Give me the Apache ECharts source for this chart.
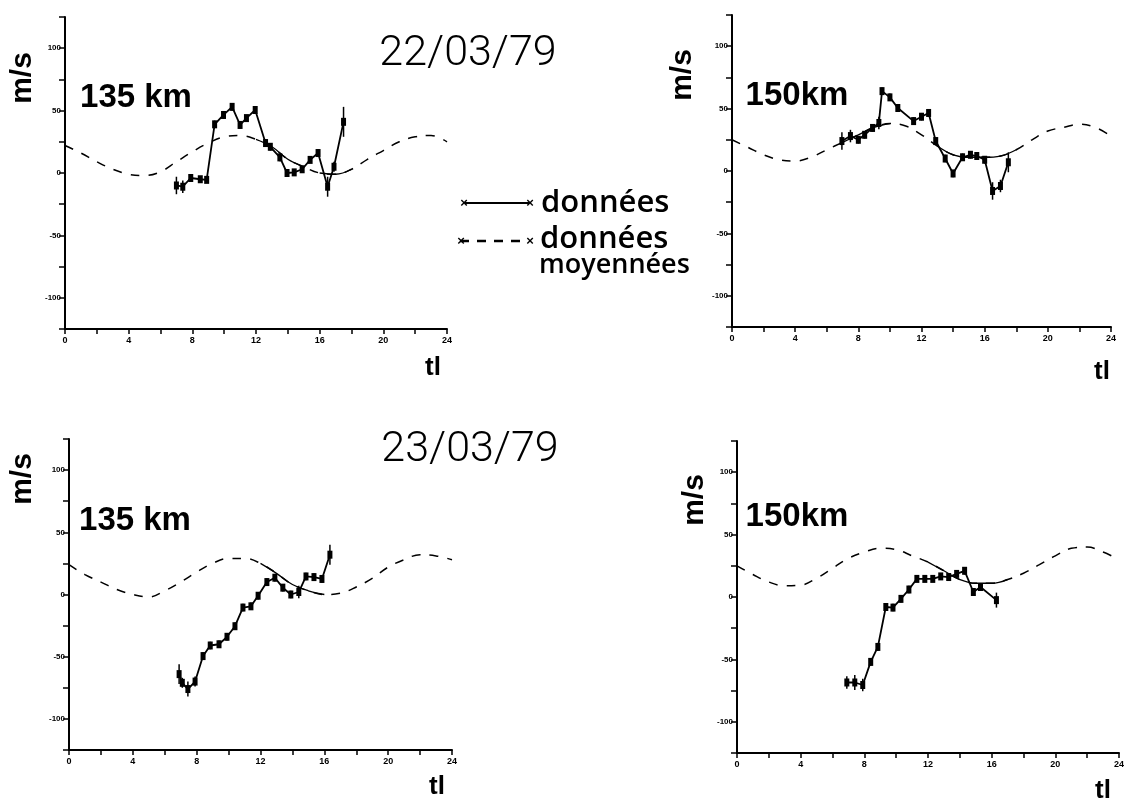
<!DOCTYPE html>
<html><head><meta charset="utf-8">
<script src="https://cdn.jsdelivr.net/npm/echarts@6/dist/echarts.min.js"></script>
<style>html,body{margin:0;padding:0;background:#fff}#c{width:1127px;height:803px}</style>
</head><body><div id="c"></div>
<script>
// ---- data ----
const hours = [0,1,2,3,4,5,6,7,8,9,10,11,12,13,14,15,16,17,18,19,20,21,22,23,24];
const xTickLabels = ['0','4','8','12','16','20','24'];
const yTickLabels = ['-100','-50','0','50','100'];

// données moyennées (dashed)
const mean1 = [22,16,9,3,-1,-2,1,9,17,24,29,30,27,21,11,5,0,-1,3,11,18,25,29,30,25];
const mean2 = [25,19,13,9,8,11,17,23,29,35,38,36,29,20,13,11,11,12,17,25,32,35,37.5,35,28];
const mean3 = [24,16,10,4,0,-2,3,10,18,25,29,29,25,17,8,3,0,1,6,13,22,28,32,31,28];
const mean4 = [25,18,12,9,9.5,15,23,31,36,39,38,33,28,21,14,11,11,14,19,26,33,39,40,36,30];
// hour spans where the mean curve is drawn solid
const solid1 = [[12,15],[16,18]];
const solid2 = [[7,10],[13,18]];
const solid3 = [[12,16]];
const solid4 = [[12,17]];

// données (solid) : time, value, error half-width
const t1 = [7.0,7.4,7.9,8.5,8.9,9.4,9.96,10.5,11.0,11.4,11.95,12.6,12.9,13.5,13.95,14.4,14.9,15.4,15.9,16.5,16.9,17.5];
const v1 = [-10,-11,-4,-5,-5.5,39,46.5,53,38.5,44,50.5,24,21,12.5,0,0.5,3,10.5,16,-11,5,41];
const e1 = [7,5,2,2,2,3,3,3,3,2,3,3,3,3,2,2,2,2,3,8,4,12];

const t2 = [6.96,7.5,8.0,8.4,8.9,9.3,9.5,10.0,10.5,11.5,12.0,12.45,12.9,13.5,14.0,14.6,15.1,15.5,16.0,16.5,17.0,17.5];
const v2 = [24,28,25,29,34.5,38.5,64,59,50.5,40,43.5,46.5,24,10,-2,11,13,12,9,-16,-12,7];
const e2 = [7,5,3,3,3,5,3,3,3,3,3,3,3,3,3,3,3,3,3,7,5,8];

const t3 = [6.9,7.1,7.45,7.9,8.4,8.85,9.4,9.9,10.4,10.9,11.4,11.85,12.4,12.9,13.4,13.9,14.4,14.85,15.35,15.85,16.35];
const v3 = [-64,-71,-76,-70,-49.5,-41,-40,-34,-25.5,-10.5,-9.5,-1,10,13.5,5.5,0,2,14.5,14,12.5,32];
const e3 = [8,4,6,4,3,3,3,3,3,3,3,3,3,3,3,3,5,3,3,3,8];

const t4 = [6.9,7.4,7.9,8.4,8.85,9.35,9.8,10.3,10.8,11.3,11.8,12.3,12.8,13.3,13.8,14.3,14.85,15.3,16.3];
const v4 = [-68.5,-68.5,-70.5,-52,-40,-8,-8.5,-1.5,6,14.5,14.5,14.5,16.5,16,18.5,21,4,8,-2.5];
const e4 = [5,6,5,3,3,3,3,3,3,2,2,2,2,2,3,3,3,3,6];

const panelLabels = ['135 km','150km','135 km','150km'];
const dateLabels = ['22/03/79','23/03/79'];
const legendLabels = ['données','données','moyennées'];
const yName = 'm/s', xName = 'tl';

// ---- layout ----
const grids = [
  {left:65, top:17, width:382, height:312},
  {left:732, top:15, width:379, height:312},
  {left:69, top:439, width:383, height:311},
  {left:737, top:441, width:384, height:312}
];
const means = [mean1,mean2,mean3,mean4];
const solids = [solid1,solid2,solid3,solid4];
const ts = [t1,t2,t3,t4], vs=[v1,v2,v3,v4], es=[e1,e2,e3,e4];

const xAxes = [], yAxes = [], series = [];
grids.forEach((g,i)=>{
  xAxes.push({
    type:'value', gridIndex:i, min:0, max:24, interval:2,
    axisLine:{show:true, onZero:false, lineStyle:{color:'#000', width:2}},
    axisTick:{show:true, inside:false, length:5, lineStyle:{color:'#000', width:1.5}},
    splitLine:{show:false},
    axisLabel:{color:'#000', fontSize:9, fontWeight:'bold', fontFamily:'Liberation Sans', margin:7,
      formatter:v=> xTickLabels.includes(String(v)) ? String(v) : ''}
  });
  yAxes.push({
    type:'value', gridIndex:i, min:-125, max:125, interval:25,
    axisLine:{show:true, onZero:false, lineStyle:{color:'#000', width:2}},
    axisTick:{show:true, length:6, lineStyle:{color:'#000', width:1.5}},
    splitLine:{show:false},
    axisLabel:{color:'#000', fontSize:8, fontWeight:'bold', fontFamily:'Liberation Sans', margin:4,
      formatter:v=> yTickLabels.includes(String(v)) ? String(v) : ''}
  });
  series.push({
    type:'line', xAxisIndex:i, yAxisIndex:i, smooth:0.4, symbol:'none', silent:true,
    data: hours.map((h,k)=>[h, means[i][k]]),
    lineStyle:{color:'#000', width:1.5, type:[9,9]}, z:2
  });
  solids[i].forEach(span=>{
    series.push({
      type:'line', xAxisIndex:i, yAxisIndex:i, smooth:0.4, symbol:'none', silent:true,
      data: hours.map((h,k)=>[h, means[i][k]]).filter(d=>d[0]>=span[0] && d[0]<=span[1]),
      lineStyle:{color:'#000', width:1.3}, z:2
    });
  });
  series.push({
    type:'custom', xAxisIndex:i, yAxisIndex:i, silent:true,
    data: ts[i].map((t,k)=>[t, vs[i][k]-es[i][k], vs[i][k]+es[i][k]]),
    renderItem:(params, api)=>{
      const p1 = api.coord([api.value(0), api.value(1)]);
      const p2 = api.coord([api.value(0), api.value(2)]);
      return {type:'line', shape:{x1:p1[0], y1:p1[1], x2:p2[0], y2:p2[1]},
        style:{stroke:'#000', lineWidth:1.5}};
    }, z:3
  });
  series.push({
    type:'line', xAxisIndex:i, yAxisIndex:i, silent:true,
    data: ts[i].map((t,k)=>[t, vs[i][k]]),
    symbol:'rect', symbolSize:[5,8], itemStyle:{color:'#000'},
    lineStyle:{color:'#000', width:1.8}, z:4
  });
});

// ---- text decoration ----
const graphic = [];
function txt(x,y,text,font,opts){
  graphic.push(Object.assign({type:'text', x:x, y:y,
    style:{text:text, font:font, fill:'#000', textAlign:'center', textVerticalAlign:'middle'}}, opts||{}));
}
const labelFont = 'bold 33px "Liberation Sans"';
txt(136, 98, panelLabels[0], labelFont);
txt(797, 96, panelLabels[1], labelFont);
txt(135, 521, panelLabels[2], labelFont);
txt(797, 517, panelLabels[3], labelFont);
txt(468, 54, dateLabels[0], '300 43px "Roboto"');
txt(470, 450, dateLabels[1], '300 43px "Roboto"');
[[23,78],[683,75],[23,479],[695,500]].forEach(p=>{
  txt(p[0], p[1], yName, 'bold 30px "Liberation Sans"', {rotation:Math.PI/2});
});
[[433,368],[1102,372],[437,787],[1103,791]].forEach(p=>{
  txt(p[0], p[1], xName, 'bold 26px "Liberation Sans"');
});
// legend
graphic.push({type:'line', shape:{x1:465,y1:203,x2:529,y2:203}, style:{stroke:'#000', lineWidth:2}});
graphic.push({type:'line', shape:{x1:460,y1:241,x2:528,y2:241}, style:{stroke:'#000', lineWidth:2.5, lineDash:[9,8]}});
txt(464, 203, '×', 'bold 13px "Liberation Sans"');
txt(530, 203, '×', 'bold 13px "Liberation Sans"');
txt(461, 241, '×', 'bold 13px "Liberation Sans"');
txt(530, 241, '×', 'bold 13px "Liberation Sans"');
const legFont = '600 31px "Open Sans"';
graphic.push({type:'text', x:541, y:203, style:{text:legendLabels[0], font:legFont, fill:'#000', textAlign:'left', textVerticalAlign:'middle'}});
graphic.push({type:'text', x:540, y:239, style:{text:legendLabels[1], font:legFont, fill:'#000', textAlign:'left', textVerticalAlign:'middle'}});
graphic.push({type:'text', x:539, y:265, style:{text:legendLabels[2], font:'600 27px "Open Sans"', fill:'#000', textAlign:'left', textVerticalAlign:'middle'}});

const chart = echarts.init(document.getElementById('c'), null, {renderer:'canvas'});
chart.setOption({
  animation:false, backgroundColor:'#fff',
  grid: grids, xAxis: xAxes, yAxis: yAxes, series: series, graphic: graphic
});
</script></body></html>
